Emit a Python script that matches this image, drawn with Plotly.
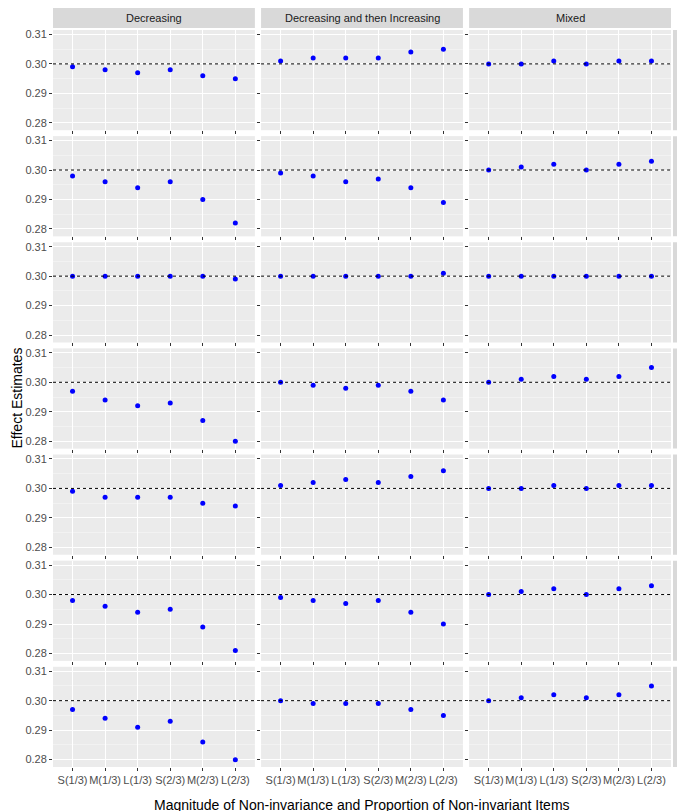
import plotly.graph_objects as go
from plotly.subplots import make_subplots

conditions = ["S(1/3)", "M(1/3)", "L(1/3)", "S(2/3)", "M(2/3)", "L(2/3)"]
patterns = ["Decreasing", "Decreasing and then Increasing", "Mixed"]
effects = ["X", "M", "Y", "XM", "XY", "MY", "XMY"]

# values[effect] = [Decreasing, Decreasing then Increasing, Mixed]
x_vals = [[0.299, 0.298, 0.297, 0.298, 0.296, 0.295],
          [0.301, 0.302, 0.302, 0.302, 0.304, 0.305],
          [0.300, 0.300, 0.301, 0.300, 0.301, 0.301]]
m_vals = [[0.298, 0.296, 0.294, 0.296, 0.290, 0.282],
          [0.299, 0.298, 0.296, 0.297, 0.294, 0.289],
          [0.300, 0.301, 0.302, 0.300, 0.302, 0.303]]
y_vals = [[0.300, 0.300, 0.300, 0.300, 0.300, 0.299],
          [0.300, 0.300, 0.300, 0.300, 0.300, 0.301],
          [0.300, 0.300, 0.300, 0.300, 0.300, 0.300]]
xm_vals = [[0.297, 0.294, 0.292, 0.293, 0.287, 0.280],
           [0.300, 0.299, 0.298, 0.299, 0.297, 0.294],
           [0.300, 0.301, 0.302, 0.301, 0.302, 0.305]]
xy_vals = [[0.299, 0.297, 0.297, 0.297, 0.295, 0.294],
           [0.301, 0.302, 0.303, 0.302, 0.304, 0.306],
           [0.300, 0.300, 0.301, 0.300, 0.301, 0.301]]
my_vals = [[0.298, 0.296, 0.294, 0.295, 0.289, 0.281],
           [0.299, 0.298, 0.297, 0.298, 0.294, 0.290],
           [0.300, 0.301, 0.302, 0.300, 0.302, 0.303]]
xmy_vals = [[0.297, 0.294, 0.291, 0.293, 0.286, 0.280],
            [0.300, 0.299, 0.299, 0.299, 0.297, 0.295],
            [0.300, 0.301, 0.302, 0.301, 0.302, 0.305]]
all_vals = [x_vals, m_vals, y_vals, xm_vals, xy_vals, my_vals, xmy_vals]

nr, nc = 7, 3
fig = make_subplots(rows=nr, cols=nc, shared_xaxes=True, shared_yaxes=True,
                    horizontal_spacing=0.01, vertical_spacing=0.008)

for r in range(nr):
    for c in range(nc):
        fig.add_trace(go.Scatter(x=conditions, y=all_vals[r][c], mode="markers",
                                 marker=dict(color="blue", size=5), showlegend=False),
                      row=r + 1, col=c + 1)
        fig.add_hline(y=0.30, line=dict(color="black", width=1, dash="dot"),
                      row=r + 1, col=c + 1)

fig.update_xaxes(showgrid=True, gridcolor="white", gridwidth=1.2, ticks="outside",
                 ticklen=3, tickcolor="#333", tickfont=dict(size=11, color="#4d4d4d"),
                 tickangle=0, range=[-0.6, 5.6], zeroline=False, automargin=False)
fig.update_yaxes(range=[0.2775, 0.3115], tickvals=[0.28, 0.29, 0.30, 0.31],
                 ticktext=["0.28", "0.29", "0.30", "0.31"],
                 showgrid=True, gridcolor="white", gridwidth=1.2,
                 minor=dict(tickvals=[0.285, 0.295, 0.305], showgrid=True,
                            gridcolor="#f2f2f2", gridwidth=0.6),
                 ticks="outside", ticklen=3, tickcolor="#333",
                 tickfont=dict(size=11, color="#4d4d4d"), zeroline=False, automargin=False)

L, R, T, B = 45, 22, 22, 52
W, H = 685, 811
pw = W - L - R
ph = H - T - B

# strips
for c in range(nc):
    xa = fig.layout["xaxis" + ("" if c == 0 else str(c + 1))].domain
    fig.add_shape(type="rect", xref="paper", yref="paper", x0=xa[0], x1=xa[1],
                  y0=1 + 2 / ph, y1=1 + 22 / ph, fillcolor="#d9d9d9", line_width=0)
    fig.add_annotation(text=patterns[c], xref="paper", yref="paper",
                       x=(xa[0] + xa[1]) / 2, y=1 + 12 / ph, showarrow=False,
                       xanchor="center", yanchor="middle",
                       font=dict(size=11, color="#1a1a1a"))
for r in range(nr):
    idx = r * nc + 1
    ya = fig.layout["yaxis" + ("" if idx == 1 else str(idx))].domain
    fig.add_shape(type="rect", xref="paper", yref="paper", x0=1 + 2 / pw, x1=1 + 22 / pw,
                  y0=ya[0], y1=ya[1], fillcolor="#d9d9d9", line_width=0)
    fig.add_annotation(text=effects[r], xref="paper", yref="paper",
                       x=1 + 12 / pw, y=(ya[0] + ya[1]) / 2, showarrow=False,
                       xanchor="center", yanchor="middle",
                       textangle=90, font=dict(size=11, color="#1a1a1a"))

fig.add_annotation(text="Effect Estimates", xref="paper", yref="paper", x=-37 / pw, y=0.5,
                   showarrow=False, textangle=-90, xanchor="center", yanchor="middle",
                   font=dict(size=14, color="black"))
fig.add_annotation(text="Magnitude of Non-invariance and Proportion of Non-invariant Items",
                   xref="paper", yref="paper", x=0.5, y=-38 / ph, showarrow=False,
                   xanchor="center", yanchor="middle",
                   font=dict(size=14, color="black"))

fig.update_layout(width=W, height=H, margin=dict(l=L, r=R, t=T, b=B, autoexpand=False),
                  plot_bgcolor="#ebebeb", paper_bgcolor="white",
                  font=dict(family="Liberation Sans, Arial, sans-serif"))
fig.write_html("out.html")
